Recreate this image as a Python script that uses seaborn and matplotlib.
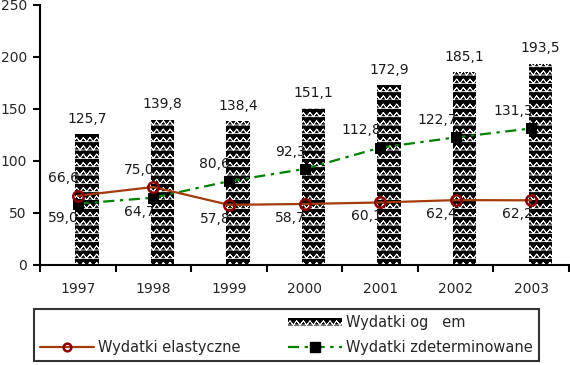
import warnings
import numpy as np
import pandas as pd
import matplotlib
matplotlib.use("Agg")
import matplotlib.pyplot as plt
import seaborn as sns
from matplotlib.lines import Line2D
from matplotlib.patches import Rectangle
from matplotlib import hatch as mhatch
from matplotlib.path import Path

warnings.filterwarnings("ignore")

years = ["1997", "1998", "1999", "2000", "2001", "2002", "2003"]
ogolem = [125.7, 139.8, 138.4, 151.1, 172.9, 185.1, 193.5]
elastyczne = [66.6, 75.0, 57.8, 58.7, 60.1, 62.4, 62.2]
zdeterminowane = [59.0, 64.7, 80.6, 92.3, 112.8, 122.7, 131.3]
el_above = [True, True, False, False, False, False, False]
zd_above = [False, False, True, True, True, True, True]
yticks = [0, 50, 100, 150, 200, 250]

lab_ogolem = "Wydatki og   em"
lab_el = "Wydatki elastyczne"
lab_zd = "Wydatki zdeterminowane"


class TriangleHatch(mhatch.HatchPatternBase):
    """Rows of small outlined triangles (zigzag over a baseline)."""

    def __init__(self, hatch, density):
        self.rows = 12 if "v" in hatch else 0
        self.cols = 15
        self.num_vertices = self.rows * (3 + 4 * self.cols)

    def set_vertices_and_codes(self, vertices, codes):
        n = 0
        h = 0.5 / self.rows
        c = self.cols
        for j in range(self.rows):
            y = j / self.rows
            vertices[n] = (0, y); codes[n] = Path.MOVETO; n += 1
            vertices[n] = (1, y); codes[n] = Path.LINETO; n += 1
            pts = [(0, y)]
            for k in range(c):
                pts.append(((k + 0.5) / c, y + h))
                pts.append(((k + 1) / c, y))
            route = pts + pts[-2::-1]  # retrace -> zero fill area
            for m, pt in enumerate(route):
                vertices[n] = pt
                codes[n] = Path.MOVETO if m == 0 else Path.LINETO
                n += 1


mhatch._hatch_types.append(TriangleHatch)

sns.set_style("white")
plt.rcParams["font.family"] = ["DejaVu Sans"]
plt.rcParams["hatch.linewidth"] = 0.6
plt.rcParams["hatch.color"] = "white"

fig = plt.figure(figsize=(5.7, 3.65), dpi=100)
ax = fig.add_axes([40 / 570, 100 / 365, 529 / 570, 260 / 365])

idx = np.arange(len(years))
bar_off = 0.12
df = pd.DataFrame({"pos": idx + bar_off, "ogolem": ogolem,
                   "el": elastyczne, "zd": zdeterminowane, "x": idx})

sns.barplot(data=df, x="pos", y="ogolem", native_scale=True, width=0.31,
            color="black", saturation=1, ax=ax)


def style_bar(p):
    p.set_edgecolor("black")
    p.set_linewidth(0)
    p.set_hatch("v")
    try:
        p.set_hatchcolor("white")
    except Exception:
        p._hatch_color = matplotlib.colors.to_rgba("white")


for p in ax.patches:
    style_bar(p)
    p.set_zorder(1)
bar_handle = Rectangle((0, 0), 1, 1, facecolor="black")
style_bar(bar_handle)

green_ls = (0, (5, 2.5, 1.5, 2.5))
sns.lineplot(data=df, x="x", y="zd", ax=ax, color="#008000", lw=1.6,
             linestyle=green_ls, marker="s", markersize=7,
             markerfacecolor="black", markeredgecolor="black", zorder=3)
sns.lineplot(data=df, x="x", y="el", ax=ax, color="#A33B0B", lw=1.6,
             marker="o", markersize=7.5, markerfacecolor="none",
             markeredgecolor="#8B0000", markeredgewidth=1.8, zorder=4)

fs = 10
for i, v in enumerate(ogolem):
    ax.annotate(f"{v:.1f}".replace(".", ","), (idx[i] + bar_off, v),
                xytext=(0, 11), textcoords="offset points",
                ha="center", va="center", fontsize=fs, color="#1a1a1a")
for vals, above in ((elastyczne, el_above), (zdeterminowane, zd_above)):
    for i, v in enumerate(vals):
        dy = 12.5 if above[i] else -10
        ax.annotate(f"{v:.1f}".replace(".", ","), (idx[i], v),
                    xytext=(1, dy), textcoords="offset points",
                    ha="right", va="center", fontsize=fs, color="#1a1a1a",
                    zorder=5)

ax.set_xlim(-0.5, len(years) - 0.5)
ax.set_ylim(0, 250)
ax.set_yticks(yticks)
ax.set_yticklabels([str(t) for t in yticks], fontsize=fs)
ax.set_xticks(idx)
ax.set_xticklabels(years, fontsize=fs)
ax.set_xticks(np.arange(len(years) + 1) - 0.5, minor=True)
ax.tick_params(axis="x", which="major", length=0, pad=12)
ax.tick_params(axis="x", which="minor", length=5, width=1.5, direction="out",
               bottom=True, color="black")
ax.tick_params(axis="y", length=5, width=1.5, direction="out", left=True,
               pad=4.5, color="black")
ax.set_xlabel("")
ax.set_ylabel("")
for s in ("top", "right"):
    ax.spines[s].set_visible(False)
for s in ("left", "bottom"):
    ax.spines[s].set_color("black")
    ax.spines[s].set_linewidth(1.5)

blank = Line2D([], [], color="none")
h_el = Line2D([], [], color="#A33B0B", lw=1.6, marker="o", markersize=5.5,
              markerfacecolor="none", markeredgecolor="#8B0000",
              markeredgewidth=1.8)
h_zd = Line2D([], [], color="#008000", lw=1.6, linestyle=green_ls,
              marker="s", markersize=7, markerfacecolor="black",
              markeredgecolor="black")
leg_fs = 10.5
leg = fig.legend([blank, h_el, bar_handle, h_zd], ["", lab_el, lab_ogolem, lab_zd],
                 ncol=2, loc="upper left",
                 bbox_to_anchor=(34 / 570, 1 - 313 / 365, 505 / 570, 0.01),
                 mode="expand", frameon=True, fancybox=False, shadow=False,
                 edgecolor="black", fontsize=leg_fs, handlelength=3.7,
                 handletextpad=0.3, borderpad=0.4, labelspacing=0.66,
                 handleheight=0.55, borderaxespad=0)
leg.get_frame().set_linewidth(1.5)

fig.savefig("out.png", dpi=100)
